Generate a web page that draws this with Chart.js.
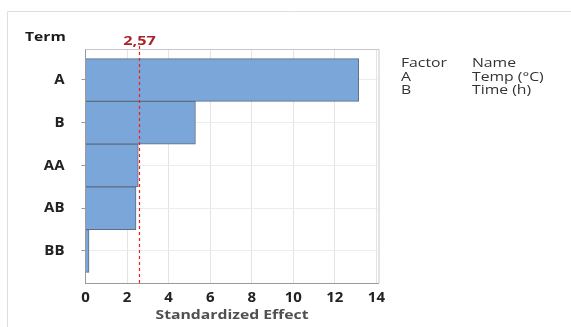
<!DOCTYPE html>
<html>
<head>
<meta charset="utf-8">
<script src="https://cdn.jsdelivr.net/npm/chart.js@4"></script>
<style>
  html, body { margin: 0; padding: 0; background: #fff; }
  #wrap { width: 571px; height: 327px; position: relative; }
</style>
</head>
<body>
<div id="wrap"><canvas id="chart" width="571" height="327"></canvas></div>
<script>
const terms = ['A', 'B', 'AA', 'AB', 'BB'];
const effects = [13.15, 5.29, 2.54, 2.43, 0.17];
const xTicks = [0, 2, 4, 6, 8, 10, 12, 14];
const critical = 2.57;
const criticalLabel = '2,57';
const factors = ['A', 'B'];
const factorNames = ['Temp (°C)', 'Time (h)'];

const font = "'Open Sans', 'Noto Sans', sans-serif";

// text in the original is a bit wider than tall
const wideText = (ctx, text, x, y, align, f, color) => {
    ctx.save();
    ctx.font = f;
    ctx.fillStyle = color;
    ctx.textAlign = align;
    ctx.textBaseline = 'middle';
    ctx.translate(x, y);
    ctx.scale(1.25, 1);
    ctx.fillText(text, 0, 0);
    ctx.restore();
};

const extras = {
    id: 'extras',
    beforeDraw: (chart) => {
        const ctx = chart.ctx;
        ctx.save();
        ctx.strokeStyle = '#dedede';
        ctx.lineWidth = 1;
        ctx.beginPath();
        ctx.moveTo(7.5, 327);
        ctx.lineTo(7.5, 11.5);
        ctx.lineTo(571, 11.5);
        ctx.stroke();
        ctx.restore();
    },
    afterDraw: (chart) => {
        const ctx = chart.ctx;
        const a = chart.chartArea;
        const x = chart.scales.x;
        ctx.save();
        // plot frame (top + right)
        ctx.strokeStyle = '#c8c8c8';
        ctx.lineWidth = 1;
        ctx.beginPath();
        ctx.moveTo(a.left, a.top + 0.5);
        ctx.lineTo(a.right + 0.5, a.top + 0.5);
        ctx.lineTo(a.right + 0.5, a.bottom);
        ctx.stroke();

        // critical value line
        const cx = Math.round(x.getPixelForValue(critical)) + 0.5;
        ctx.strokeStyle = '#ff1a1a';
        ctx.lineWidth = 1.2;
        ctx.setLineDash([3, 3]);
        ctx.beginPath();
        ctx.moveTo(cx, a.top - 3);
        ctx.lineTo(cx, a.bottom);
        ctx.stroke();
        ctx.restore();

        wideText(ctx, criticalLabel, cx, 41, 'center', 'bold 13px ' + font, '#a8262b');
        wideText(ctx, 'Term', 25, 37, 'left', 'bold 12.5px ' + font, '#1a1a1a');
        wideText(ctx, 'Standardized Effect', (a.left + a.right) / 2, 315, 'center', 'bold 12.6px ' + font, '#505050');

        // factor table
        const lf = '12.6px ' + font;
        wideText(ctx, 'Factor', 401, 63, 'left', lf, '#333');
        wideText(ctx, 'Name', 472, 63, 'left', lf, '#333');
        factors.forEach((f, i) => {
            wideText(ctx, f, 401, 77 + i * 13.6, 'left', lf, '#333');
            wideText(ctx, factorNames[i], 472, 77 + i * 13.6, 'left', lf, '#333');
        });
    }
};

new Chart(document.getElementById('chart'), {
    type: 'bar',
    data: {
        datasets: [{
            data: effects.map((v, i) => ({ x: v, y: i })),
            backgroundColor: '#7ba6d9',
            borderColor: '#5d6d82',
            borderWidth: 1,
            barPercentage: 1,
            categoryPercentage: 1
        }]
    },
    options: {
        indexAxis: 'y',
        responsive: false,
        animation: false,
        layout: { padding: { left: 0, top: 49, right: 192.5, bottom: 0 } },
        plugins: { legend: { display: false }, tooltip: { enabled: false } },
        scales: {
            x: {
                type: 'linear',
                min: 0,
                max: 14.1,
                afterBuildTicks: (s) => { s.ticks = xTicks.map(v => ({ value: v })); },
                afterFit: (s) => { s.height = 44; },
                grid: { color: '#e4e4e4', drawTicks: false },
                border: { color: '#9a9a9a' },
                ticks: {
                    padding: 6,
                    color: '#222',
                    font: { family: font, size: 15, weight: 'bold' }
                }
            },
            y: {
                type: 'linear',
                reverse: true,
                offset: false,
                min: -0.725,
                max: 4.75,
                afterBuildTicks: (s) => { s.ticks = terms.map((t, i) => ({ value: i })); },
                afterFit: (s) => { s.width = 85.5; },
                grid: { color: '#ececec', tickLength: 4, tickColor: '#9a9a9a', offset: false },
                border: { color: '#9a9a9a' },
                ticks: {
                    padding: 17,
                    color: '#222',
                    callback: (v) => terms[v],
                    font: { family: font, size: 15, weight: 'bold' }
                }
            }
        }
    },
    plugins: [extras]
});
</script>
</body>
</html>
